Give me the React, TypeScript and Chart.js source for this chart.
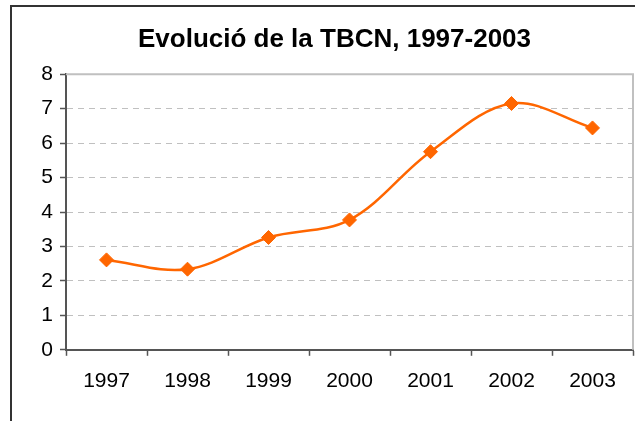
import React, { useEffect, useRef } from "react";
import { Chart, registerables } from "chart.js";

Chart.register(...registerables);

const years = ["1997", "1998", "1999", "2000", "2001", "2002", "2003"];
const tbcnValues = [2.61, 2.34, 3.26, 3.77, 5.75, 7.15, 6.44];
const titleText = "Evolució de la TBCN, 1997-2003";
const yMin = 0;
const yMax = 8;
const yStep = 1;

const framePlugin = {
  id: "frameAndPlotBorder",
  beforeDraw(chart: any) {
    const ctx = chart.ctx;
    ctx.save();
    ctx.fillStyle = "#ffffff";
    ctx.fillRect(0, 0, chart.width, chart.height);
    ctx.strokeStyle = "#333333";
    ctx.lineWidth = 2;
    ctx.strokeRect(11, 6, chart.width + 40, chart.height + 40);
    ctx.restore();
  },
  beforeDatasetsDraw(chart: any) {
    const { ctx, chartArea } = chart;
    ctx.save();
    ctx.strokeStyle = "#c0c0c0";
    ctx.lineWidth = 2;
    ctx.beginPath();
    ctx.moveTo(chartArea.left, chartArea.top);
    ctx.lineTo(chartArea.right, chartArea.top);
    ctx.lineTo(chartArea.right, chartArea.bottom);
    ctx.stroke();
    ctx.restore();
  },
};

export default function App() {
  const canvasRef = useRef<HTMLCanvasElement | null>(null);

  useEffect(() => {
    if (!canvasRef.current) return;
    const chart = new Chart(canvasRef.current, {
      type: "line",
      data: {
        labels: years,
        datasets: [
          {
            label: "TBCN",
            data: tbcnValues,
            borderColor: "#ff6600",
            backgroundColor: "#ff6600",
            borderWidth: 2.5,
            tension: 0.35,
            pointStyle: "rectRot",
            pointRadius: 7,
            pointHoverRadius: 7,
            pointBackgroundColor: "#ff6600",
            pointBorderColor: "#ff6600",
            pointBorderWidth: 1,
          },
        ],
      },
      options: {
        animation: false,
        responsive: false,
        devicePixelRatio: 1,
        layout: { autoPadding: false, padding: { left: 36, right: 2, top: 0, bottom: 14 } },
        plugins: {
          legend: { display: false },
          tooltip: { enabled: false },
          title: {
            display: true,
            text: titleText,
            color: "#000000",
            font: { family: "'Liberation Sans', Arial, sans-serif", size: 26, weight: "bold" },
            padding: { top: 24, bottom: 19 },
          },
        },
        scales: {
          x: {
            type: "category",
            offset: true,
            afterFit(scale: any) {
              scale.paddingLeft = 0;
              scale.paddingRight = 0;
            },
            grid: {
              offset: true,
              drawOnChartArea: false,
              drawTicks: true,
              tickLength: 6,
              color: "#555555",
              tickWidth: 1.5,
            },
            border: { display: true, color: "#555555", width: 2 },
            ticks: {
              color: "#000000",
              padding: 13,
              font: { family: "'Liberation Sans', Arial, sans-serif", size: 21 },
              maxRotation: 0,
            },
          },
          y: {
            min: yMin,
            max: yMax,
            afterFit(scale: any) {
              scale.width = 30;
            },
            grid: {
              color: "#c0c0c0",
              lineWidth: 1,
              drawTicks: true,
              tickLength: 6,
              tickColor: "#555555",
              tickWidth: 1.5,
              tickBorderDash: [10, 0],
            },
            border: { display: true, color: "#555555", width: 2, dash: [6, 5] },
            ticks: {
              stepSize: yStep,
              color: "#000000",
              padding: 7,
              font: { family: "'Liberation Sans', Arial, sans-serif", size: 21 },
            },
          },
        },
      },
      plugins: [framePlugin],
    });
    return () => chart.destroy();
  }, []);

  return (
    <div style={{ position: "fixed", left: 0, top: 0, width: 635, height: 421, background: "#fff" }}>
      <canvas ref={canvasRef} width={635} height={421} />
    </div>
  );
}
